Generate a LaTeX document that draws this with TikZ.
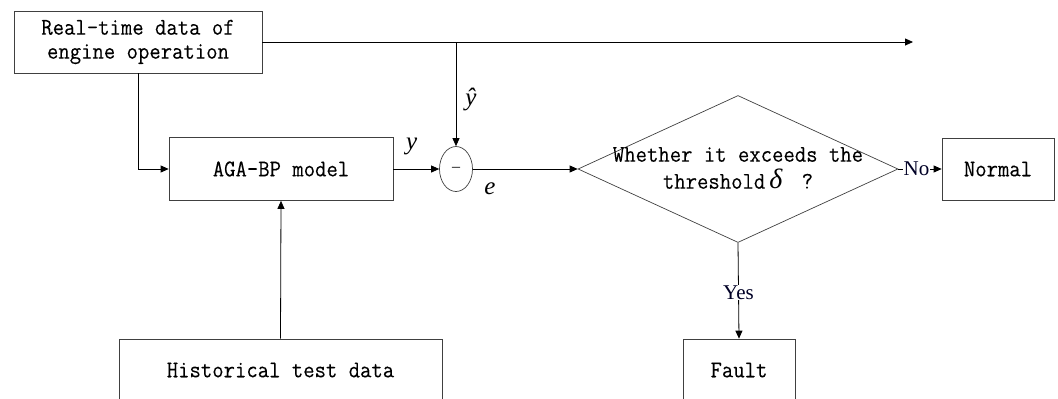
\documentclass[tikz,border=0pt]{standalone}
\usepackage{fontspec}
\setmainfont{Liberation Serif}
\setmonofont{Latin Modern Mono}[FakeStretch=0.92, FakeBold=0.15]
\usetikzlibrary{shapes.geometric,arrows.meta}
\begin{document}
\begin{tikzpicture}[x=1pt,y=-1pt,
  line width=0.8pt,
  >={Triangle[length=8pt,width=7pt]},
  lbl/.style={font=\fontsize{24}{27}\selectfont\ttfamily},
  box/.style={draw=black!75, line width=0.7pt, rectangle, inner sep=0pt, lbl, align=center},
  varlbl/.style={font=\fontsize{25}{26}\selectfont\rmfamily\itshape, inner sep=0pt},
  wordlbl/.style={font=\fontsize{21}{22}\selectfont\rmfamily, text=black!85!blue, fill=white, inner sep=0.5pt}]
\useasboundingbox (0,0) rectangle (1058,399);
\clip (0,0) rectangle (1058,399);

% blocks
\node[box, minimum width=248pt, minimum height=62pt] (rt) at (138,42)
  {Real-time data of\\[-3pt]engine operation};
\node[box, minimum width=224pt, minimum height=63pt] (aga) at (281,169) {AGA-BP model};
\node[box, minimum width=323pt, minimum height=62pt] (hist) at (280.5,370) {Historical test data};
\node[draw=black!75, line width=0.7pt, ellipse, minimum width=33pt, minimum height=45pt, inner sep=0pt] (circ) at (456,169)
  {\fontsize{16}{16}\selectfont\rmfamily –};
\node[draw=black!75, line width=0.7pt, diamond, minimum width=320pt, minimum height=147pt, inner sep=0pt] (dia) at (738,169) {};
\node[lbl, align=center] (diatext) at (738,168)
  {Whether it exceeds the\\[0pt]threshold\,{\fontsize{28}{28}\selectfont\rmfamily\itshape δ}\,\, ?};
\node[box, minimum width=112pt, minimum height=62pt] (normal) at (998,169) {Normal};
\node[box, minimum width=112pt, minimum height=62pt] (fault) at (739,370) {Fault};

% junction points
\coordinate (out) at (913,42);
\coordinate (tap) at (456,42);

% connectors
\draw[->] (rt.east) -- (out);
\draw[->] (tap) -- (circ.north) node[varlbl, pos=0.55, right=9pt] (yhat) {\^y};
\draw[->] (rt.south) |- (aga.west);
\draw[->] (hist.north) -- (aga.south);
\draw[->] (aga.east) -- (circ.west) node[varlbl, pos=0.4, above=14pt] (ylab) {y};
\draw[->] (circ.east) -- (dia.west);
\node[varlbl] (elab) at (490,189) {e};
\draw[->] (dia.east) -- (normal.west) node[wordlbl, pos=0.42] (no) {No};
\draw[->] (dia.south) -- (fault.north) node[wordlbl, pos=0.52] (yes) {Yes};
\end{tikzpicture}
\end{document}
